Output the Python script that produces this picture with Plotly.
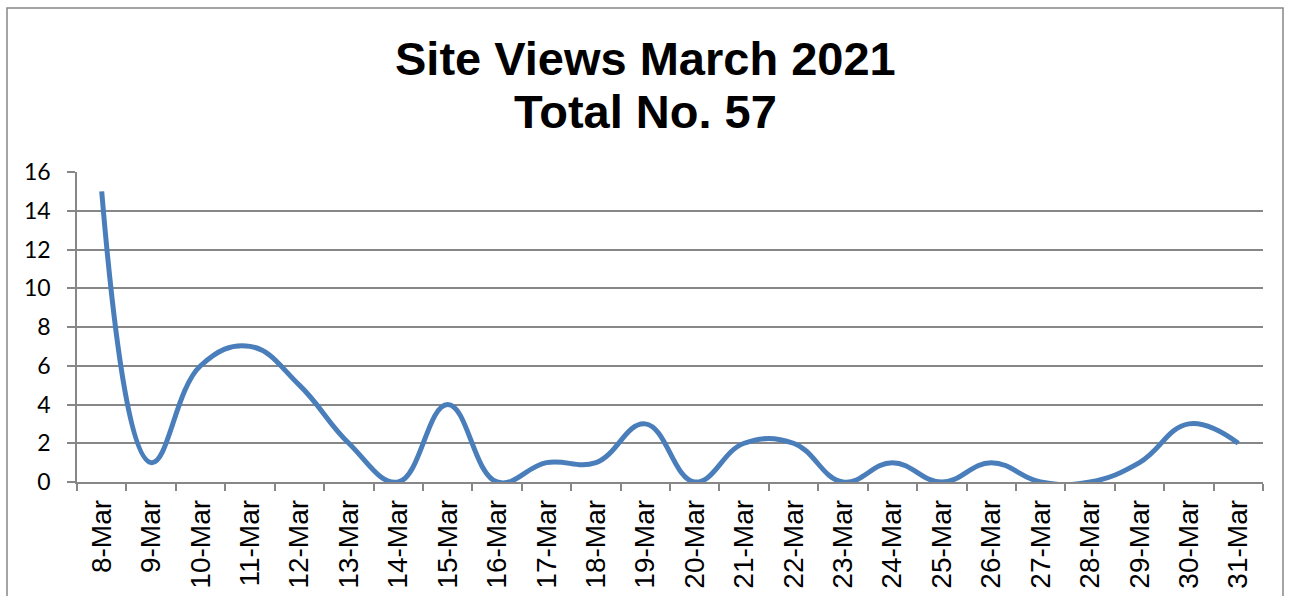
import plotly.graph_objects as go

# Daily site views, March 2021
days = ["8-Mar", "9-Mar", "10-Mar", "11-Mar", "12-Mar", "13-Mar", "14-Mar", "15-Mar",
        "16-Mar", "17-Mar", "18-Mar", "19-Mar", "20-Mar", "21-Mar", "22-Mar", "23-Mar",
        "24-Mar", "25-Mar", "26-Mar", "27-Mar", "28-Mar", "29-Mar", "30-Mar", "31-Mar"]
views = [15, 1, 6, 7, 5, 2, 0, 4, 0, 1, 1, 3, 0, 2, 2, 0, 1, 0, 1, 0, 0, 1, 3, 2]

y_ticks = [0, 2, 4, 6, 8, 10, 12, 14, 16]

W, H = 1290, 596
ML, MR, MT, MB = 77, 27, 172, 114
plot_w = W - ML - MR
plot_h = H - MT - MB

GRAY = "#878787"
BLUE = "#4A7EBB"

fig = go.Figure()
fig.add_trace(go.Scatter(
    x=days, y=views, mode="lines",
    line=dict(color=BLUE, width=5, shape="spline", smoothing=1.2),
    hoverinfo="x+y", showlegend=False,
))


def px_x(p):
    return (p - ML) / plot_w


def px_y(p):
    return (H - MB - p) / plot_h


fig.update_layout(
    width=W, height=H,
    margin=dict(l=ML, r=MR, t=MT, b=MB),
    paper_bgcolor="white", plot_bgcolor="white",
    xaxis=dict(
        type="category", tickson="boundaries", showgrid=False,
        showline=True, linecolor=GRAY, linewidth=1.5,
        ticks="outside", ticklen=7, tickcolor=GRAY, tickwidth=1.5,
        ticklabelstandoff=5,
        tickangle=-90, tickfont=dict(family="Liberation Sans, Arial", size=28, color="black"),
        range=[-0.5, len(days) - 0.5],
        automargin=False,
    ),
    yaxis=dict(
        range=[0, 16], tickvals=y_ticks, showgrid=True, gridcolor=GRAY, gridwidth=1.5,
        showline=True, linecolor=GRAY, linewidth=1.5,
        ticks="outside", ticklen=8, tickcolor=GRAY, tickwidth=1.5,
        ticklabelstandoff=12,
        tickfont=dict(family="Lato", size=23, color="black"),
        zeroline=False,
        automargin=False,
    ),
    annotations=[
        dict(text="<b>Site Views March 2021</b>", xref="paper", yref="paper",
             x=px_x(W / 2), y=px_y(58), xanchor="center", yanchor="middle",
             showarrow=False, font=dict(family="Arial, Liberation Sans", size=47, color="black")),
        dict(text="<b>Total No. 57</b>", xref="paper", yref="paper",
             x=px_x(W / 2), y=px_y(111), xanchor="center", yanchor="middle",
             showarrow=False, font=dict(family="Arial, Liberation Sans", size=47, color="black")),
    ],
    shapes=[
        dict(type="rect", xref="paper", yref="paper",
             x0=px_x(7), x1=px_x(1283), y0=px_y(620), y1=px_y(8),
             line=dict(color=GRAY, width=1.5), fillcolor="rgba(0,0,0,0)", layer="below"),
    ],
)

fig.write_html("out.html")
